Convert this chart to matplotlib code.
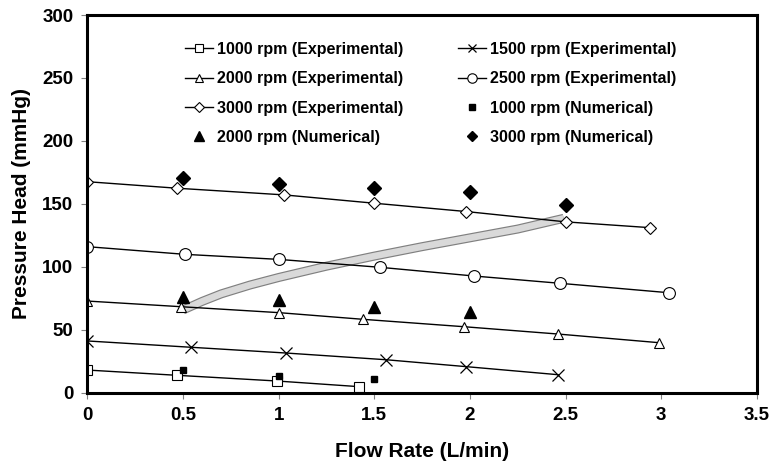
import numpy as np
import matplotlib
matplotlib.use('Agg')
import matplotlib.pyplot as plt

plt.rcParams['font.family'] = ['Liberation Sans', 'DejaVu Sans']

# Experimental data (flow rate L/min, pressure head mmHg)
q1000_exp = [0, 0.47, 0.99, 1.42]
p1000_exp = [18.0, 13.8, 9.3, 4.8]
q1500_exp = [0, 0.54, 1.04, 1.56, 1.98, 2.46]
p1500_exp = [41.1, 36.1, 31.5, 26.2, 20.7, 14.3]
q2000_exp = [0, 0.49, 1.0, 1.44, 1.97, 2.46, 2.99]
p2000_exp = [72.8, 68.3, 63.6, 58.3, 52.4, 46.6, 39.7]
q2500_exp = [0, 0.51, 1.0, 1.53, 2.02, 2.47, 3.04]
p2500_exp = [116.0, 109.9, 105.9, 99.6, 92.7, 86.9, 79.4]
q3000_exp = [0, 0.47, 1.03, 1.5, 1.98, 2.5, 2.94]
p3000_exp = [167.6, 162.4, 157.1, 150.5, 143.9, 135.7, 131.1]

# Numerical data
q1000_num = [0.5, 1.0, 1.5]
p1000_num = [17.8, 13.5, 10.6]
q2000_num = [0.5, 1.0, 1.5, 2.0]
p2000_num = [76.2, 73.6, 67.8, 64.3]
q3000_num = [0.5, 1.0, 1.5, 2.0, 2.5]
p3000_num = [170.3, 165.8, 162.4, 159.7, 149.1]

# Gray curve
q_curve = [0.5, 0.6, 0.7, 0.85, 1.0, 1.25, 1.5, 1.75, 2.0, 2.25, 2.49]
p_curve = [65.7, 72.5, 78.5, 85.5, 91.5, 100.5, 108.5, 116.0, 123.0, 130.0, 138.5]

fig = plt.figure(figsize=(7.74, 4.66), dpi=100)
ax = fig.add_axes([0.1128, 0.1573, 0.8652, 0.8105])

# thick light band with darker edge
ax.plot(q_curve, p_curve, color='#808080', lw=6.5, solid_capstyle='butt', zorder=1)
ax.plot(q_curve, p_curve, color='#d9d9d9', lw=4.8, solid_capstyle='butt', zorder=1)

lw = 1.0
h1 = ax.plot(q1000_exp, p1000_exp, '-s', color='black', lw=lw, ms=7.5, mfc='white', mec='black', mew=0.8)[0]
h2 = ax.plot(q1500_exp, p1500_exp, '-x', color='black', lw=lw, ms=8, mew=0.9)[0]
h3 = ax.plot(q2000_exp, p2000_exp, '-^', color='black', lw=lw, ms=7.5, mfc='white', mec='black', mew=0.8)[0]
h4 = ax.plot(q2500_exp, p2500_exp, '-o', color='black', lw=lw, ms=8.5, mfc='white', mec='black', mew=0.8)[0]
h5 = ax.plot(q3000_exp, p3000_exp, '-D', color='black', lw=lw, ms=6, mfc='white', mec='black', mew=0.8)[0]
h6 = ax.plot(q1000_num, p1000_num, 's', color='black', ms=5)[0]
h7 = ax.plot(q2000_num, p2000_num, '^', color='black', ms=8.5)[0]
h8 = ax.plot(q3000_num, p3000_num, 'D', color='black', ms=7)[0]

ax.set_xlim(0, 3.5)
ax.set_ylim(0, 300)
ax.set_xticks(np.arange(0, 3.51, 0.5))
ax.set_xticklabels(['0', '0.5', '1', '1.5', '2', '2.5', '3', '3.5'])
ax.set_yticks(np.arange(0, 301, 50))
for s in ax.spines.values():
    s.set_linewidth(2.2)
ax.tick_params(direction='out', length=4, width=0.8, color='#808080', labelsize=13.5, pad=6)
for lab in ax.get_xticklabels() + ax.get_yticklabels():
    lab.set_fontweight('bold')

ax.set_xlabel('Flow Rate (L/min)', fontsize=15, fontweight='bold', labelpad=13)
ax.set_ylabel('Pressure Head (mmHg)', fontsize=15, fontweight='bold', labelpad=8)

handles = [h1, h3, h5, h7, h2, h4, h6, h8]
labels = ['1000 rpm (Experimental)', '2000 rpm (Experimental)', '3000 rpm (Experimental)',
          '2000 rpm (Numerical)', '1500 rpm (Experimental)', '2500 rpm (Experimental)',
          '1000 rpm (Numerical)', '3000 rpm (Numerical)']
leg = ax.legend(handles, labels, ncol=2, frameon=False, loc='upper left',
                bbox_to_anchor=(0.146, 0.929), prop={'size': 11.5, 'weight': 'bold'},
                handlelength=1.75, handletextpad=0.25, columnspacing=3.4,
                labelspacing=0.9, markerscale=0.8, borderpad=0, borderaxespad=0)

fig.savefig('out.png', dpi=100)
